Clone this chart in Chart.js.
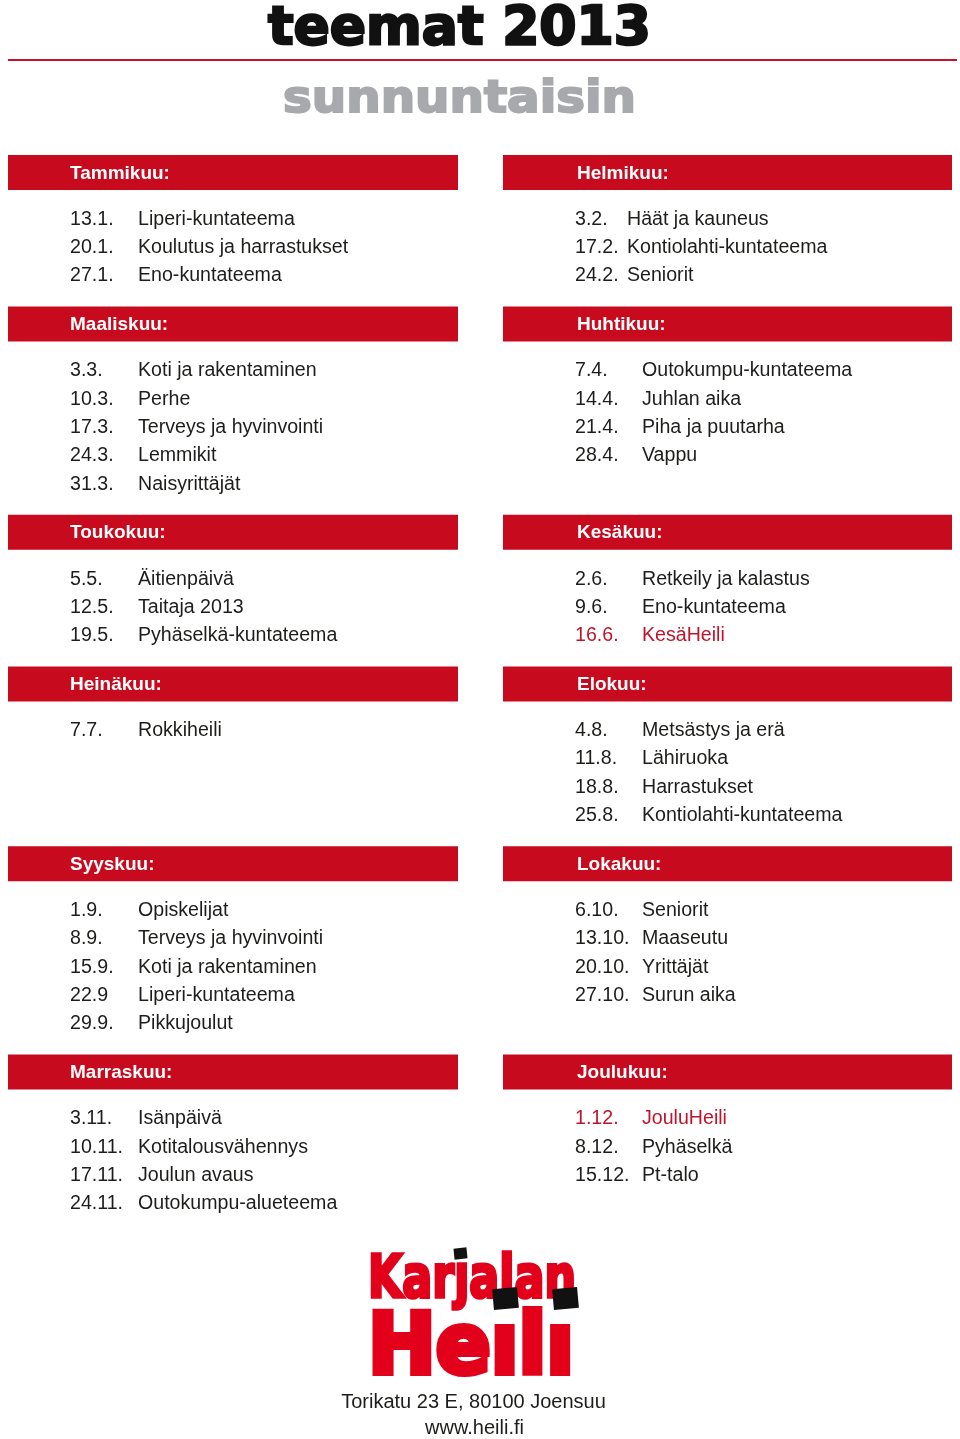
<!DOCTYPE html>
<html>
<head>
<meta charset="utf-8">
<script src="https://cdn.jsdelivr.net/npm/chart.js@4.4.1/dist/chart.umd.min.js"></script>
<style>
  html, body { margin: 0; padding: 0; background: #fff; }
  #page { position: relative; width: 960px; height: 1439px; overflow: hidden; }
  #sheet { position: absolute; left: 0; top: 0; }
  .t { position: absolute; white-space: nowrap; line-height: 1; transform-origin: 0 0; }
  .heavy { font-family: "DejaVu Sans", sans-serif; font-weight: bold; }
  .addr { font-family: "Liberation Sans", Arial, sans-serif; font-size: 20px; color: #1d1d1b; }
  .sq { position: absolute; background: #111; }
</style>
</head>
<body>
<div id="page">
  <canvas id="sheet" width="960" height="1439"></canvas>

  <div class="t heavy" id="title" style="left:268px; top:-1px; font-size:53px; color:#111; -webkit-text-stroke:2.5px #111;">teemat 2013</div>
  <div style="position:absolute; left:8px; top:59px; width:949px; height:2px; background:#c4122f;"></div>
  <div class="t heavy" id="subtitle" style="left:283px; top:75px; font-size:44px; color:#a7a9ac; -webkit-text-stroke:2px #a7a9ac;">sunnuntaisin</div>

  <!-- logo -->
  <div class="t heavy" id="kar" style="left:368px; top:1247px; font-size:59px; color:#e2001a; -webkit-text-stroke:3.5px #e2001a;">Karȷalan</div>
  <div class="t heavy" id="hei" style="left:368px; top:1303px; font-size:83px; color:#e2001a; -webkit-text-stroke:6px #e2001a;">Heılı</div>
  <div class="sq" style="left:454px; top:1248px; width:13px; height:11px; transform:rotate(-6deg);"></div>
  <div class="sq" style="left:493px; top:1288px; width:25px; height:21px; transform:rotate(-5deg);"></div>
  <div class="sq" style="left:553px; top:1288px; width:25px; height:21px; transform:rotate(-5deg);"></div>

  <div class="t addr" id="addr1" style="top:1391px;">Torikatu 23 E, 80100 Joensuu</div>
  <div class="t addr" id="addr2" style="top:1417px;">www.heili.fi</div>
</div>

<script>
// Months (headers), in reading order: left, right, left, right ...
const months = ['Tammikuu', 'Helmikuu', 'Maaliskuu', 'Huhtikuu', 'Toukokuu', 'Kesäkuu',
                'Heinäkuu', 'Elokuu', 'Syyskuu', 'Lokakuu', 'Marraskuu', 'Joulukuu'];

const dates = [
  ['13.1.', '20.1.', '27.1.'],
  ['3.2.', '17.2.', '24.2.'],
  ['3.3.', '10.3.', '17.3.', '24.3.', '31.3.'],
  ['7.4.', '14.4.', '21.4.', '28.4.'],
  ['5.5.', '12.5.', '19.5.'],
  ['2.6.', '9.6.', '16.6.'],
  ['7.7.'],
  ['4.8.', '11.8.', '18.8.', '25.8.'],
  ['1.9.', '8.9.', '15.9.', '22.9', '29.9.'],
  ['6.10.', '13.10.', '20.10.', '27.10.'],
  ['3.11.', '10.11.', '17.11.', '24.11.'],
  ['1.12.', '8.12.', '15.12.']
];

const themes = [
  ['Liperi-kuntateema', 'Koulutus ja harrastukset', 'Eno-kuntateema'],
  ['Häät ja kauneus', 'Kontiolahti-kuntateema', 'Seniorit'],
  ['Koti ja rakentaminen', 'Perhe', 'Terveys ja hyvinvointi', 'Lemmikit', 'Naisyrittäjät'],
  ['Outokumpu-kuntateema', 'Juhlan aika', 'Piha ja puutarha', 'Vappu'],
  ['Äitienpäivä', 'Taitaja 2013', 'Pyhäselkä-kuntateema'],
  ['Retkeily ja kalastus', 'Eno-kuntateema', 'KesäHeili'],
  ['Rokkiheili'],
  ['Metsästys ja erä', 'Lähiruoka', 'Harrastukset', 'Kontiolahti-kuntateema'],
  ['Opiskelijat', 'Terveys ja hyvinvointi', 'Koti ja rakentaminen', 'Liperi-kuntateema', 'Pikkujoulut'],
  ['Seniorit', 'Maaseutu', 'Yrittäjät', 'Surun aika'],
  ['Isänpäivä', 'Kotitalousvähennys', 'Joulun avaus', 'Outokumpu-alueteema'],
  ['JouluHeili', 'Pyhäselkä', 'Pt-talo']
];

// the paper's own issues are printed in red
const highlighted = ['16.6.', '1.12.'];

// ---- layout (page pixels) ----
const PAGE_W = 960, PAGE_H = 1439;
const COLS = [
  { bar: [8, 458], head: 70, date: 70, theme: 138 },
  { bar: [503, 952], head: 577, date: 575, theme: 642 }
];
const NARROW_THEME = { 'Helmikuu': 627 };   // this block has the theme right after the date
const FIRST_HEAD = 172.5, HEAD_TO_ROW = 45, ROW_GAP = 28.3, ROW_TO_HEAD = 50;
const BAR_H = 35;

const RED = '#c80a1e';
const HL = '#c0142b';
const INK = '#1d1d1b';
const ROW_FONT = '19.6px "Liberation Sans", Arial, sans-serif';
const HEAD_FONT = 'bold 19px "Liberation Sans", Arial, sans-serif';

// build datasets
const datasets = [];
const entries = [];
let headY = FIRST_HEAD;
for (let p = 0; p < months.length; p += 2) {
  for (let c = 0; c < 2; c++) {
    const m = p + c;
    const col = COLS[c];
    datasets.push({
      kind: 'header',
      label: months[m],
      textX: col.head,
      data: [{ x: col.bar[0], y: headY }, { x: col.bar[1], y: headY }],
      showLine: true,
      borderColor: RED,
      borderWidth: BAR_H,
      borderCapStyle: 'butt',
      pointRadius: 0
    });
    dates[m].forEach((d, i) => {
      entries.push({
        x: col.date,
        y: headY + HEAD_TO_ROW + i * ROW_GAP,
        date: d,
        theme: themes[m][i],
        themeX: NARROW_THEME[months[m]] || col.theme,
        hl: highlighted.includes(d)
      });
    });
  }
  const n = Math.max(dates[p].length, dates[p + 1].length);
  headY += HEAD_TO_ROW + (n - 1) * ROW_GAP + ROW_TO_HEAD;
}
datasets.push({ kind: 'entries', data: entries, pointRadius: 0 });

// writes month names and the date / theme texts at the points
const textPlugin = {
  id: 'sheetText',
  afterDatasetsDraw(chart) {
    const ctx = chart.ctx;
    const xs = chart.scales.x;
    ctx.save();
    ctx.textBaseline = 'alphabetic';
    ctx.textAlign = 'left';
    chart.data.datasets.forEach((ds, i) => {
      const meta = chart.getDatasetMeta(i);
      if (ds.kind === 'header') {
        ctx.font = HEAD_FONT;
        ctx.fillStyle = '#fff';
        ctx.fillText(ds.label + ':', xs.getPixelForValue(ds.textX), meta.data[0].y + 6);
      } else {
        ctx.font = ROW_FONT;
        meta.data.forEach((pt, j) => {
          const raw = ds.data[j];
          ctx.fillStyle = raw.hl ? HL : INK;
          ctx.fillText(raw.date, pt.x, pt.y + 7.2);
          ctx.fillText(raw.theme, xs.getPixelForValue(raw.themeX), pt.y + 7.2);
        });
      }
    });
    ctx.restore();
  }
};

const sheet = new Chart(document.getElementById('sheet'), {
  type: 'scatter',
  data: { datasets: datasets },
  options: {
    responsive: false,
    animation: false,
    events: [],
    layout: { padding: 0 },
    plugins: { legend: { display: false }, tooltip: { enabled: false } },
    scales: {
      x: { type: 'linear', min: 0, max: PAGE_W, display: false },
      y: { type: 'linear', min: 0, max: PAGE_H, reverse: true, display: false }
    }
  },
  plugins: [textPlugin]
});

// squeeze / stretch the big texts to the widths in the print
function fitWidth(id, w) {
  const el = document.getElementById(id);
  const real = el.getBoundingClientRect().width;
  el.style.transform = 'scaleX(' + (w / real) + ')';
}
function centerAt(id, cx) {
  const el = document.getElementById(id);
  el.style.left = (cx - el.getBoundingClientRect().width / 2) + 'px';
}
fitWidth('title', 383);
fitWidth('subtitle', 353);
fitWidth('kar', 208);
fitWidth('hei', 206);
centerAt('addr1', 473.5);
centerAt('addr2', 474.5);
</script>
</body>
</html>
